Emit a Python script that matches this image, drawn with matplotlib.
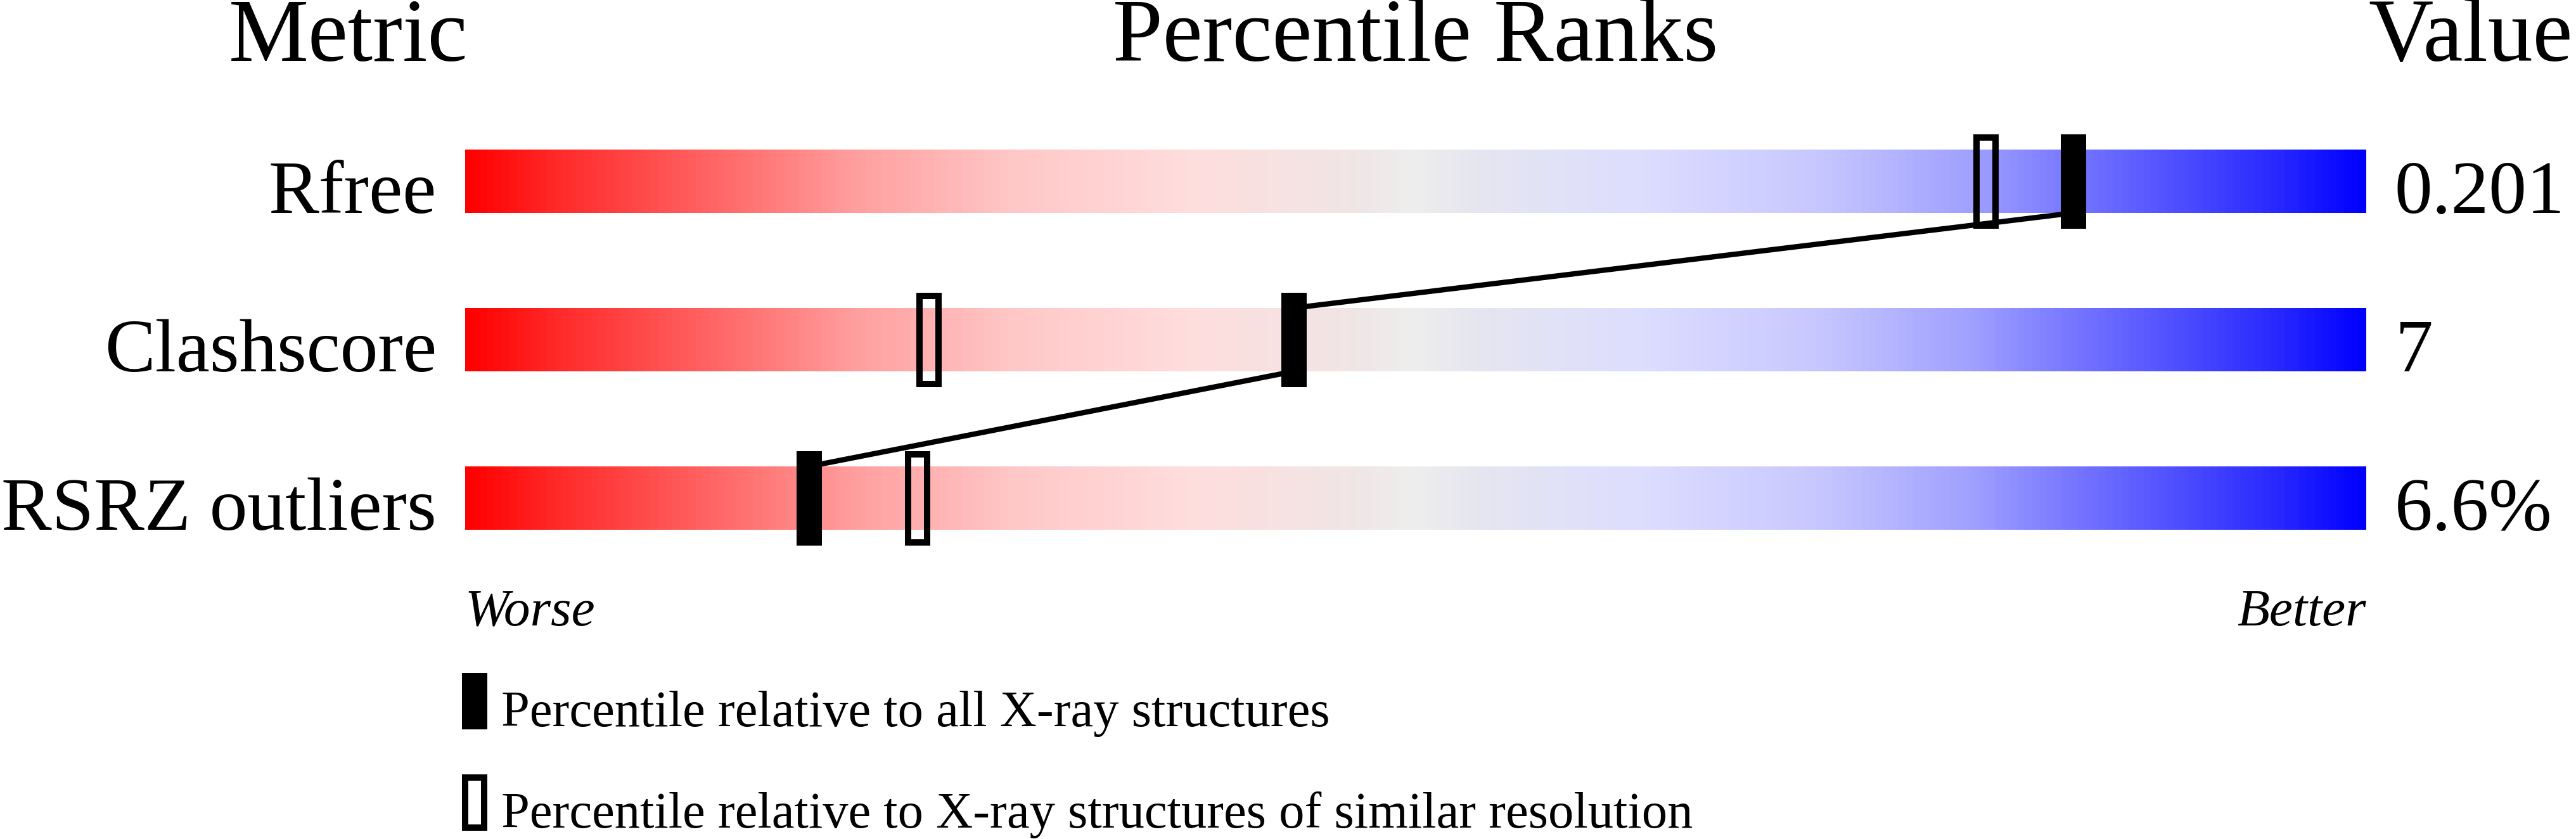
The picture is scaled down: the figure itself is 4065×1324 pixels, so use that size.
import matplotlib
matplotlib.use("Agg")
import matplotlib.pyplot as plt
import numpy as np
from matplotlib.colors import LinearSegmentedColormap
from matplotlib.patches import Rectangle

# data
metrics = ["Rfree", "Clashscore", "RSRZ outliers"]
values = ["0.201", "7", "6.6%"]
pct_all = [84.6, 43.6, 18.1]       # filled markers
pct_similar = [80.0, 24.4, 23.8]   # open markers

legend_labels = ["Percentile relative to all X-ray structures",
                 "Percentile relative to X-ray structures of similar resolution"]

plt.rcParams["font.family"] = ["Liberation Serif", "DejaVu Serif"]

# red -> grey -> blue gradient
stops = [(0.0, (255, 0, 0)), (0.045, (255, 40, 40)), (0.155, (255, 120, 120)),
         (0.205, (255, 159, 159)), (0.29, (255, 200, 200)), (0.38, (255, 221, 221)),
         (0.47, (240, 230, 230)), (0.5, (238, 238, 238)), (0.53, (230, 230, 240)),
         (0.62, (221, 221, 255)), (0.71, (200, 200, 255)), (0.795, (159, 159, 255)),
         (0.845, (120, 120, 255)), (0.955, (40, 40, 255)), (1.0, (0, 0, 255))]
cmap = LinearSegmentedColormap.from_list(
    "pdb", [(p, tuple(c / 255 for c in rgb)) for p, rgb in stops])

fig = plt.figure(figsize=(40.66, 13.24), dpi=100)
ax = fig.add_axes([0, 0, 1, 1])
ax.axis("off")

bar_h = 0.4
grad = np.linspace(0, 1, 1024).reshape(1, -1)
for i in range(len(metrics)):
    ax.imshow(grad, cmap=cmap, aspect="auto", interpolation="bilinear",
              extent=[0, 100, i + bar_h / 2, i - bar_h / 2], zorder=1)
ax.set_xlim(-734 / 30, 100 + 332 / 30)
ax.set_ylim(4.152, -1.144)

# connecting line between the filled markers
for i in range(len(metrics) - 1):
    ax.plot([pct_all[i], pct_all[i + 1]], [i + bar_h / 2, i + 1 - bar_h / 2],
            color="black", lw=6, solid_capstyle="butt", zorder=2)

mw = 40 / 30
for i in range(len(metrics)):
    ax.add_patch(Rectangle((pct_similar[i] - 0.5, i - 0.278), 1.0, 0.556,
                           facecolor="none", edgecolor="black", lw=7.2, zorder=3))
    ax.add_patch(Rectangle((pct_all[i] - mw / 2, i - 0.298), mw, 0.596,
                           facecolor="black", edgecolor="none", zorder=4))
    ax.text(-1.5, i + bar_h / 2, metrics[i], ha="right", va="baseline", fontsize=86)
    ax.text(101.5, i + bar_h / 2, values[i], ha="left", va="baseline", fontsize=86)

# headers
ax.text(-6.13, -0.76, "Metric", ha="center", va="baseline", fontsize=102)
ax.text(50, -0.76, "Percentile Ranks", ha="center", va="baseline", fontsize=102)
ax.text(105.5, -0.76, "Value", ha="center", va="baseline", fontsize=102)

ax.text(0, 2.804, "Worse", ha="left", va="baseline", fontsize=60, style="italic")
ax.text(100, 2.804, "Better", ha="right", va="baseline", fontsize=60, style="italic")

# legend
ax.add_patch(Rectangle((0.5 - mw / 2, 3.282 - 0.178), mw, 0.356,
                       facecolor="black", edgecolor="none"))
ax.add_patch(Rectangle((0.0, 3.922 - 0.158), 1.0, 0.316,
                       facecolor="none", edgecolor="black", lw=7.2))
ax.text(1.9, 3.44, legend_labels[0], ha="left", va="baseline", fontsize=58)
ax.text(1.9, 4.08, legend_labels[1], ha="left", va="baseline", fontsize=58)

fig.savefig("out.png", dpi=100, facecolor="white")
